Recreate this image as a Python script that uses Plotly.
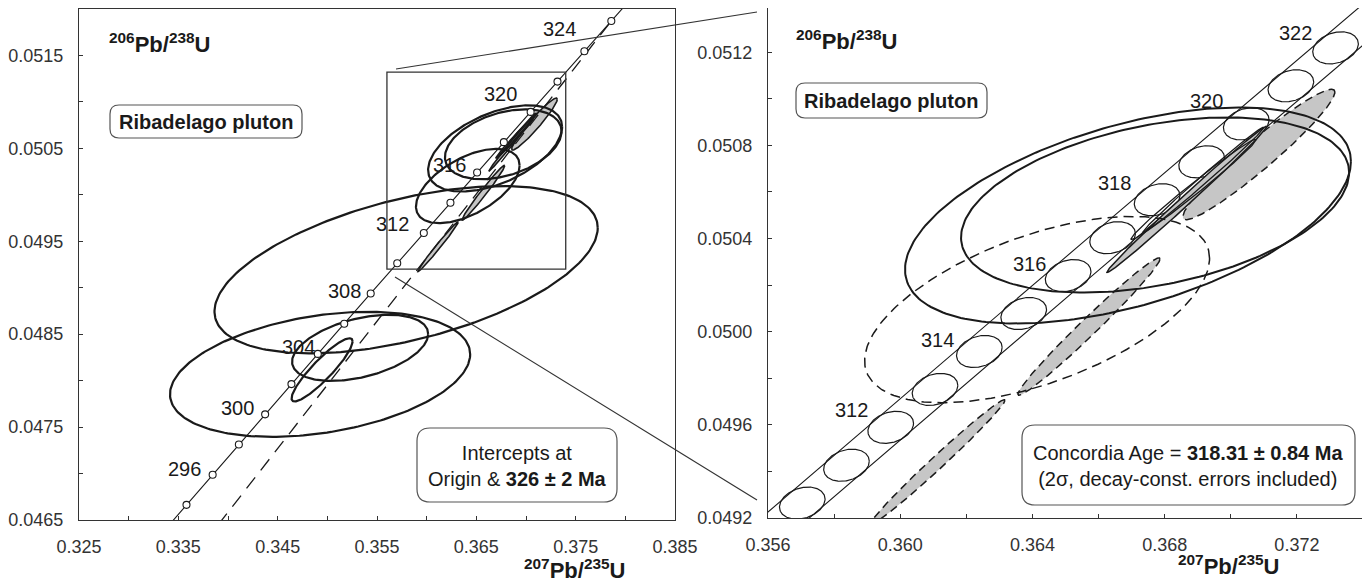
import numpy as np
import plotly.graph_objects as go

W, H = 1370, 581
OX, OY = 8, 8          # page body margin of the written html
FONT = "Arial, Liberation Sans, sans-serif"
INK = "#1a1a1a"
GRAY = "#c6c6c6"

# ---------------- data ----------------
# Concordia: age (Ma), 207Pb/235U, 206Pb/238U
conc_age = [292, 294, 296, 298, 300, 302, 304, 306, 308, 309, 310, 311, 312, 313, 314,
            315, 316, 317, 318, 319, 320, 321, 322, 323, 324, 326, 328]
conc_x = [0.3331922, 0.3358208, 0.3384545, 0.3410934, 0.3437376, 0.3463870, 0.3490415,
          0.3517014, 0.3543664, 0.3557010, 0.3570368, 0.3583740, 0.3597124, 0.3610521,
          0.3623932, 0.3637356, 0.3650794, 0.3664244, 0.3677707, 0.3691184, 0.3704676,
          0.3718179, 0.3731696, 0.3745226, 0.3758770, 0.3785897, 0.3813077]
conc_y = [0.0463381, 0.0466628, 0.0469875, 0.0473125, 0.0476374, 0.0479625, 0.0482877,
          0.0486130, 0.0489383, 0.0491010, 0.0492639, 0.0494266, 0.0495894, 0.0497522,
          0.0499151, 0.0500779, 0.0502408, 0.0504038, 0.0505668, 0.0507297, 0.0508927,
          0.0510558, 0.0512188, 0.0513819, 0.0515451, 0.0518713, 0.0521977]

left_marker_ages = [294, 296, 298, 300, 302, 304, 306, 308, 310, 312, 314, 316, 318, 320, 322, 324, 326]
left_label_ages = [296, 300, 304, 308, 312, 316, 320, 324]
right_ellipse_ages = [310, 311, 312, 313, 314, 315, 316, 317, 318, 319, 320, 321, 322]
right_label_ages = [312, 314, 316, 318, 320, 322]
band_ages = [308, 309, 310, 311, 312, 313, 314, 315, 316, 317, 318, 319, 320, 321, 322, 323, 324]
band_dx = 0.00073           # decay-constant band half width in 207/235
age_ell = (0.00069, 0.000069, 0.25)   # sx, sy, rho of concordia age ellipses

# Discordia: origin to upper intercept (326 Ma)
disc_x = [0.0, 0.3785897]
disc_y = [0.0, 0.0518713]

# Analysis ellipses: centre, half-widths, correlation
ell_name = ["A", "B", "C", "D", "E", "R1", "R2", "DG1", "DG2", "DG3", "S1", "S2", "S3"]
ell_cx = [0.34927, 0.35793, 0.35330, 0.34947, 0.36414, 0.36689, 0.36771,
          0.36114, 0.36571, 0.37085, 0.36867, 0.36917, 0.36887]
ell_cy = [0.048068, 0.049194, 0.048353, 0.048116, 0.050095, 0.050499, 0.050544,
          0.049441, 0.050022, 0.050761, 0.050568, 0.050652, 0.050611]
ell_sx = [0.01511, 0.01929, 0.00685, 0.00307, 0.005218, 0.006745, 0.00587,
          0.00203, 0.00215, 0.00230, 0.00242, 0.00183, 0.00189]
ell_sy = [0.000673, 0.000900, 0.000356, 0.000340, 0.000400, 0.000464, 0.000376,
          0.000267, 0.000295, 0.000280, 0.000314, 0.000226, 0.000215]
ell_rho = [0.32, 0.50, 0.42, 0.90, 0.55, 0.50, 0.37,
           0.990, 0.985, 0.955, 0.996, 0.995, 0.990]

right_set = ["E", "R1", "R2", "DG1", "DG2", "DG3", "S1", "S2", "S3"]
gray_set = ["DG1", "DG2", "DG3", "S1"]
dashed_right = ["E", "DG1", "DG2", "DG3"]

# ---------------- helpers ----------------
def ellipse(cx, cy, sx, sy, rho, n=240):
    t = np.linspace(0, 2 * np.pi, n)
    x = cx + sx * np.cos(t)
    y = cy + sy * (rho * np.cos(t) + np.sqrt(1 - rho ** 2) * np.sin(t))
    return x, y

def conc(age):
    i = conc_age.index(age)
    return conc_x[i], conc_y[i]

def px(x, y):
    return (x - OX) / W, 1 - (y - OY) / H

def dom_x(a, b):
    return [(a - OX) / W, (b - OX) / W]

def dom_y(top, bottom):
    return [1 - (bottom - OY) / H, 1 - (top - OY) / H]

fig = go.Figure()

def add_ell(i, xa, ya, fill=False, dash="solid", width=2.0):
    x, y = ellipse(ell_cx[i], ell_cy[i], ell_sx[i], ell_sy[i], ell_rho[i])
    if fill:
        fig.add_trace(go.Scatter(x=x, y=y, xaxis=xa, yaxis=ya, mode="lines", fill="toself",
                                 fillcolor=GRAY, line=dict(width=0, color=GRAY),
                                 hoverinfo="skip", showlegend=False))
    fig.add_trace(go.Scatter(x=x, y=y, xaxis=xa, yaxis=ya, mode="lines",
                             line=dict(color=INK, width=width, dash=dash),
                             hoverinfo="skip", showlegend=False))

# ---------------- left panel ----------------
for i, nm in enumerate(ell_name):
    if nm in gray_set:
        add_ell(i, "x", "y", fill=True, width=1.6)
for i, nm in enumerate(ell_name):
    if nm not in gray_set:
        w = 1.6 if nm.startswith("S") else 2.2
        add_ell(i, "x", "y", width=w)

fig.add_trace(go.Scatter(x=disc_x, y=disc_y, xaxis="x", yaxis="y", mode="lines",
                         line=dict(color=INK, width=1.3, dash="14px,9px"),
                         hoverinfo="skip", showlegend=False))
fig.add_trace(go.Scatter(x=conc_x, y=conc_y, xaxis="x", yaxis="y", mode="lines",
                         line=dict(color=INK, width=1.1), hoverinfo="skip", showlegend=False))
mx = [conc(a)[0] for a in left_marker_ages]
my = [conc(a)[1] for a in left_marker_ages]
fig.add_trace(go.Scatter(x=mx, y=my, xaxis="x", yaxis="y", mode="markers",
                         marker=dict(symbol="circle", size=7, color="white",
                                     line=dict(color=INK, width=1.1)),
                         cliponaxis=False, hoverinfo="skip", showlegend=False))

# ---------------- right panel ----------------
bx = [conc(a)[0] for a in band_ages]
by = [conc(a)[1] for a in band_ages]
for s in (-1, 1):
    fig.add_trace(go.Scatter(x=[v + s * band_dx for v in bx], y=by, xaxis="x2", yaxis="y2",
                             mode="lines", line=dict(color=INK, width=1.1),
                             hoverinfo="skip", showlegend=False))
for a in right_ellipse_ages:
    cx, cy = conc(a)
    x, y = ellipse(cx, cy, *age_ell)
    fig.add_trace(go.Scatter(x=x, y=y, xaxis="x2", yaxis="y2", mode="lines",
                             line=dict(color=INK, width=1.2), hoverinfo="skip", showlegend=False))

for i, nm in enumerate(ell_name):
    if nm in right_set and nm in gray_set:
        add_ell(i, "x2", "y2", fill=True, dash="8px,5px" if nm in dashed_right else "solid",
                width=1.5)
for i, nm in enumerate(ell_name):
    if nm in right_set and nm not in gray_set:
        if nm == "E":
            add_ell(i, "x2", "y2", dash="10px,6px", width=1.5)
        elif nm.startswith("S"):
            add_ell(i, "x2", "y2", width=1.3)
        else:
            add_ell(i, "x2", "y2", width=2.0)

# ---------------- axes ----------------
def axis(**kw):
    d = dict(showgrid=False, zeroline=False, showline=True, mirror=True, linecolor="#333",
             linewidth=1.4, ticks="inside", ticklen=4, tickwidth=1.2, tickcolor="#333",
             automargin=False,
             tickfont=dict(family=FONT, size=18, color="#333"))
    d.update(kw)
    return d

fig.update_layout(
    width=W, height=H, margin=dict(l=0, r=0, t=0, b=0, autoexpand=False),
    paper_bgcolor="white", plot_bgcolor="white", showlegend=False,
    xaxis=axis(domain=dom_x(79, 675), range=[0.325, 0.385], tick0=0.325, dtick=0.01,
               tickformat=".3f", anchor="y", ticklabelstandoff=10,
               minor=dict(dtick=0.005, ticks="inside", ticklen=4, tickcolor="#333")),
    yaxis=axis(domain=dom_y(9, 520), range=[0.0465, 0.0520], tick0=0.0465,
               dtick=0.001, tickformat=".4f", anchor="x", ticklabelstandoff=11,
               minor=dict(dtick=0.0005, ticks="inside", ticklen=4, tickcolor="#333")),
    xaxis2=axis(domain=dom_x(768, 1363), range=[0.356, 0.374], tick0=0.356, dtick=0.004,
                tickformat=".3f", anchor="y2", ticklabelstandoff=10,
                minor=dict(dtick=0.002, ticks="inside", ticklen=4, tickcolor="#333")),
    yaxis2=axis(domain=dom_y(8, 518), range=[0.0492, 0.05139], tick0=0.0492,
                dtick=0.0004, tickformat=".4f", anchor="x2", ticklabelstandoff=11,
                minor=dict(dtick=0.0002, ticks="inside", ticklen=4, tickcolor="#333")),
)

# zoom rectangle in left panel
fig.add_shape(type="rect", xref="x", yref="y", x0=0.356, x1=0.374, y0=0.0492, y1=0.05132,
              line=dict(color="#333", width=1.3))
# connector lines
for (x0, y0, x1, y1) in [(396, 69, 757, 12), (395, 277, 757, 500)]:
    a, b = px(x0, y0)
    c, d = px(x1, y1)
    fig.add_shape(type="line", xref="paper", yref="paper", x0=a, y0=b, x1=c, y1=d,
                  line=dict(color="#333", width=1.2))

def rbox(x0, y0, x1, y1, r):
    rx, ry = r / W, r / H
    X0, Yt = px(x0, y0)
    X1, Yb = px(x1, y1)
    p = (f"M {X0+rx},{Yb} L {X1-rx},{Yb} Q {X1},{Yb} {X1},{Yb+ry} L {X1},{Yt-ry} "
         f"Q {X1},{Yt} {X1-rx},{Yt} L {X0+rx},{Yt} Q {X0},{Yt} {X0},{Yt-ry} "
         f"L {X0},{Yb+ry} Q {X0},{Yb} {X0+rx},{Yb} Z")
    fig.add_shape(type="path", xref="paper", yref="paper", path=p,
                  line=dict(color="#555", width=1.2), fillcolor="rgba(0,0,0,0)")

rbox(110, 105, 302, 138, 9)
rbox(796, 83, 987, 118, 9)
rbox(417, 428, 617, 502, 13)
rbox(1022, 425, 1355, 505, 13)

def note(text, x, y, size=20, xanchor="center", yanchor="middle", color=INK):
    a, b = px(x, y)
    fig.add_annotation(text=text, x=a, y=b, xref="paper", yref="paper", showarrow=False,
                       xanchor=xanchor, yanchor=yanchor,
                       font=dict(family=FONT, size=size, color=color))

note("<b>Ribadelago pluton</b>", 206, 122)
note("<b>Ribadelago pluton</b>", 891, 101)
note("Intercepts at<br>Origin & <b>326 ± 2 Ma</b>", 517, 466)
note("Concordia Age = <b>318.31 ± 0.84 Ma</b><br>(2σ, decay-const. errors included)", 1188, 466)

ytitle = "<b><sup>206</sup>Pb/<sup>238</sup>U</b>"
xtitle = "<b><sup>207</sup>Pb/<sup>235</sup>U</b>"
note(ytitle, 107, 43, size=22, xanchor="left")
note(ytitle, 794, 40, size=22, xanchor="left")
note(xtitle, 522, 569, size=22, xanchor="left")
note(xtitle, 1176, 565, size=22, xanchor="left")

# age labels
left_label_shift = [(-28, 6), (-28, 6), (-19, 7), (-26, 2), (-31, 9), (-28, 7), (-30, 18), (-25, 22)]
for a, (dx, dy) in zip(left_label_ages, left_label_shift):
    x, y = conc(a)
    fig.add_annotation(text=str(a), x=x, y=y, xref="x", yref="y", showarrow=False,
                       xshift=dx, yshift=dy, font=dict(family=FONT, size=20, color=INK))
right_label_shift = [(-39, 17), (-42, 11), (-39, 12), (-43, 17), (-40, 23), (-40, 15)]
for a, (dx, dy) in zip(right_label_ages, right_label_shift):
    x, y = conc(a)
    fig.add_annotation(text=str(a), x=x, y=y, xref="x2", yref="y2", showarrow=False,
                       xshift=dx, yshift=dy, font=dict(family=FONT, size=20, color=INK))

fig.write_html("out.html", config={"displayModeBar": False})
